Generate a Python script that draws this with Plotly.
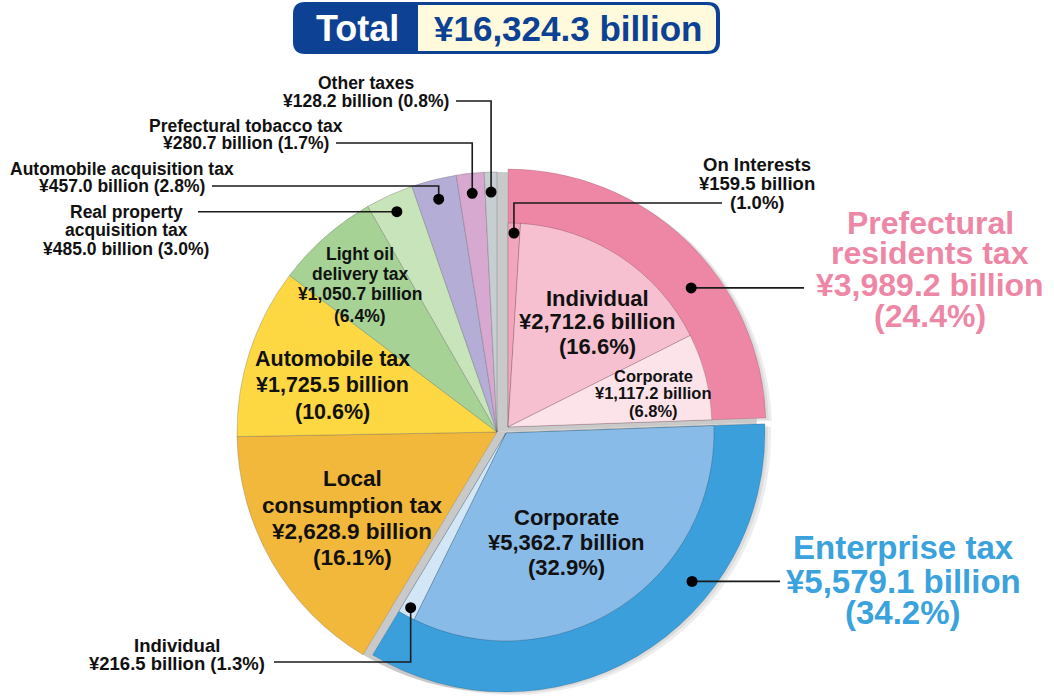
import math
import plotly.graph_objects as go

W, H = 1054, 698

# ---------------- data (¥ billion) ----------------
main_labels = ["Prefectural residents tax", "Enterprise tax", "Local consumption tax",
               "Automobile tax", "Light oil delivery tax", "Real property acquisition tax",
               "Automobile acquisition tax", "Prefectural tobacco tax", "Other taxes"]
main_values = [3989.2, 5579.1, 2628.9, 1725.5, 1050.7, 485.0, 457.0, 280.7, 128.2]
main_shares = [24.4, 34.2, 16.1, 10.6, 6.4, 3.0, 2.8, 1.7, 0.8]

pref_sub_labels = ["On Interests", "Individual", "Corporate"]
pref_sub_values = [159.5, 2712.6, 1117.2]
pref_sub_shares = [1.0, 16.6, 6.8]

ent_sub_labels = ["Corporate", "Individual"]
ent_sub_values = [5362.7, 216.5]
ent_sub_shares = [32.9, 1.3]

total_value = 16324.3

# leaf list (sub-items of the two split taxes + the other main taxes)
leaf_labels = ([f"Prefectural residents tax: {l}" for l in pref_sub_labels]
               + [f"Enterprise tax: {l}" for l in ent_sub_labels] + main_labels[2:])
leaf_values = pref_sub_values + ent_sub_values + main_values[2:]

# ---------------- styling ----------------
FONT = "Liberation Sans, Arial, Helvetica, sans-serif"
T = "rgba(0,0,0,0)"
SHADOW = "#C9C9C9"
SOFT = "rgba(0,0,0,0.07)"
PINK_RING, BLUE_RING = "#EE87A5", "#3A9FDB"
pref_sub_colors = ["#F2A6BC", "#F6C0D0", "#FCE3EA"]
ent_sub_colors = ["#88BBE7", "#D3E6F5"]
other_colors = ["#F2B83B", "#FDD843", "#A6D395", "#C8E4BA", "#B4AED6", "#D8A9D0", "#C6CED2"]

# pie geometry in pixels: (centre x, centre y, radius)
A = (497, 432, 260)       # un-separated slices
B = (508, 427, 258)       # separated prefectural residents tax
C = (506, 433, 259)       # separated enterprise tax
R_IN_B = 204              # radius of inner (breakdown) discs
R_IN_C = 208


def clamp(v):
    return min(1.0, max(0.0, v))


def dom(c, r=None, dx=0, dy=0):
    cx, cy, rr = c
    cx, cy = cx + dx, cy + dy
    if r is not None:
        rr = r
    return dict(x=[clamp((cx - rr) / W), clamp((cx + rr) / W)],
                y=[clamp(1 - (cy + rr) / H), clamp(1 - (cy - rr) / H)])


def pie(labels, values, colors, widths, domain, lcolor="rgba(0,0,0,0.18)", hover=True):
    return go.Pie(labels=labels, values=values, sort=False, direction="clockwise",
                  rotation=0, textinfo="none",
                  hoverinfo="label+value" if hover else "skip", showlegend=False,
                  domain=domain,
                  marker=dict(colors=colors, line=dict(color=lcolor, width=widths)))


n_main = len(main_values)
n_leaf = len(leaf_values)

fig = go.Figure()
# soft drop shadows of the separated rings
for off in (3, 6):
    fig.add_trace(pie(main_labels, main_values, [SOFT] + [T] * (n_main - 1),
                      [0] * n_main, dom(B, None, off, off * 0.5), hover=False))
    fig.add_trace(pie(main_labels, main_values, [T, SOFT] + [T] * (n_main - 2),
                      [0] * n_main, dom(C, None, off, off * 0.5), hover=False))
# base pie (shadow where the separated slices were)
fig.add_trace(pie(main_labels, main_values, [SHADOW, SHADOW] + other_colors,
                  [0, 0] + [1] * 7, dom(A), "rgba(90,90,90,0.30)"))
# separated outer rings
fig.add_trace(pie(main_labels, main_values, [PINK_RING] + [T] * (n_main - 1),
                  [1] + [0] * (n_main - 1), dom(B), "rgba(0,0,0,0.12)"))
fig.add_trace(pie(main_labels, main_values, [T, BLUE_RING] + [T] * (n_main - 2),
                  [0, 1] + [0] * (n_main - 2), dom(C), "rgba(0,0,0,0.12)"))
# inner breakdown discs
fig.add_trace(pie(leaf_labels, leaf_values, pref_sub_colors + [T] * (n_leaf - 3),
                  [1, 1, 1] + [0] * (n_leaf - 3), dom(B, R_IN_B)))
fig.add_trace(pie(leaf_labels, leaf_values, [T] * 3 + ent_sub_colors + [T] * (n_leaf - 5),
                  [0, 0, 0, 1, 1] + [0] * (n_leaf - 5), dom(C, R_IN_C)))


# ---------------- geometry helpers ----------------
def cum_bounds(values):
    s = sum(values)
    out, acc = [], 0.0
    for v in values:
        out.append((acc / s, (acc + v) / s))
        acc += v
    return out


main_b = cum_bounds(main_values)
leaf_b = cum_bounds(leaf_values)


def point(center, bounds, frac, r):
    cx, cy, _ = center
    a = 2 * math.pi * (bounds[0] + frac * (bounds[1] - bounds[0]))
    return cx + r * math.sin(a), cy - r * math.cos(a)


def px(x):
    return x / W


def py(y):
    return 1 - y / H


shapes = []
annotations = []


def dot(p):
    x, y = p
    rr = 5.5
    shapes.append(dict(type="circle", xref="paper", yref="paper",
                       x0=px(x - rr), x1=px(x + rr), y0=py(y + rr), y1=py(y - rr),
                       fillcolor="#000", line=dict(width=0), layer="above"))


def polyline(pts):
    d = "M " + " L ".join(f"{px(x):.5f},{py(y):.5f}" for x, y in pts)
    shapes.append(dict(type="path", xref="paper", yref="paper", path=d,
                       line=dict(color="#1a1a1a", width=1.6), layer="above"))


def label(lines, cx, ys, size, color="#111111"):
    for t, y in zip(lines, ys):
        annotations.append(dict(x=px(cx), y=py(y), xref="paper", yref="paper",
                                text=f"<b>{t}</b>", showarrow=False,
                                xanchor="center", yanchor="middle",
                                font=dict(family=FONT, size=size, color=color)))


def fmt(v):
    return f"¥{v:,.1f} billion"


# ---------------- leader lines + dots ----------------
small = [  # (index in main, label x-centre, label ys, leader y, leader start x)
    (8, 366, [83, 101], 101, 456),
    (7, 246, [126, 143], 143, 336),
    (6, 122, [169, 186], 186, 212),
]
for idx, lx, ys, ly, sx in small:
    p = point(A, main_b[idx], 0.5, 240)
    polyline([(sx, ly), (p[0], ly), p])
    dot(p)
    label([main_labels[idx], f"{fmt(main_values[idx])} ({main_shares[idx]}%)"], lx, ys, 17.5)

p = point(A, main_b[5], 0.5, 242)
polyline([(198, p[1]), p])
dot(p)
label(["Real property", "acquisition tax", f"{fmt(main_values[5])} ({main_shares[5]}%)"],
      126, [212, 230, 249], 17.5)

# On Interests
p = point(B, leaf_b[0], 0.5, 194)
polyline([(722, 203), (p[0], 203), p])
dot(p)
label([pref_sub_labels[0], fmt(pref_sub_values[0]), f"({pref_sub_shares[0]}%)"],
      757, [165, 184, 203], 18.5)

# Prefectural residents tax (ring)
p = point(B, main_b[0], 0.6, 230)
polyline([p, (804, p[1])])
dot(p)
label(["Prefectural", "residents tax", fmt(main_values[0]), f"({main_shares[0]}%)"],
      930, [223, 253, 285, 316], 32, PINK_RING)

# Enterprise tax (ring)
p = point(C, main_b[1], 0.33, 238)
polyline([p, (780, p[1])])
dot(p)
label(["Enterprise tax", fmt(main_values[1]), f"({main_shares[1]}%)"],
      903, [547, 581, 612], 33, "#3AA2DC")

# Enterprise tax: Individual
p = point(C, leaf_b[4], 0.5, 199)
polyline([(274, 662), (p[0], 662), p])
dot(p)
label([ent_sub_labels[1], f"{fmt(ent_sub_values[1])} ({ent_sub_shares[1]}%)"],
      177, [645, 663], 18.5)

# ---------------- labels inside slices ----------------
label([pref_sub_labels[1], fmt(pref_sub_values[1]), f"({pref_sub_shares[1]}%)"],
      597, [298, 321, 346], 22)
label([pref_sub_labels[2], fmt(pref_sub_values[2]), f"({pref_sub_shares[2]}%)"],
      653, [376, 393, 411], 16.5)
label(["Light oil", "delivery tax", fmt(main_values[4]), f"({main_shares[4]}%)"],
      360, [254, 274, 294, 316], 17.5)
label([main_labels[3], fmt(main_values[3]), f"({main_shares[3]}%)"],
      332, [359, 385, 412], 21.5)
label(["Local", "consumption tax", fmt(main_values[2]), f"({main_shares[2]}%)"],
      352, [478, 505, 531, 557], 22.5)
label([ent_sub_labels[0], fmt(ent_sub_values[0]), f"({ent_sub_shares[0]}%)"],
      566, [517, 542, 567], 22)


# ---------------- title box ----------------
def rrect_path(x0, y0, x1, y1, r, left_round=True):
    pts = []
    if left_round:
        pts.append(f"M {px(x0 + r)},{py(y0)}")
    else:
        pts.append(f"M {px(x0)},{py(y0)}")
    pts.append(f"L {px(x1 - r)},{py(y0)}")
    pts.append(f"Q {px(x1)},{py(y0)} {px(x1)},{py(y0 + r)}")
    pts.append(f"L {px(x1)},{py(y1 - r)}")
    pts.append(f"Q {px(x1)},{py(y1)} {px(x1 - r)},{py(y1)}")
    if left_round:
        pts.append(f"L {px(x0 + r)},{py(y1)}")
        pts.append(f"Q {px(x0)},{py(y1)} {px(x0)},{py(y1 - r)}")
        pts.append(f"L {px(x0)},{py(y0 + r)}")
        pts.append(f"Q {px(x0)},{py(y0)} {px(x0 + r)},{py(y0)}")
    else:
        pts.append(f"L {px(x0)},{py(y1)}")
    pts.append("Z")
    return " ".join(pts)


shapes.insert(0, dict(type="path", xref="paper", yref="paper",
                      path=rrect_path(293, 2, 720, 54, 12), fillcolor="#0C4193",
                      line=dict(width=0), layer="above"))
shapes.insert(1, dict(type="path", xref="paper", yref="paper",
                      path=rrect_path(418, 5, 716, 51, 9, left_round=False),
                      fillcolor="#FEFADB", line=dict(width=0), layer="above"))
annotations.append(dict(x=px(357), y=py(28), xref="paper", yref="paper", text="<b>Total</b>",
                        showarrow=False, xanchor="center", yanchor="middle",
                        font=dict(family=FONT, size=36, color="#FFFFFF")))
annotations.append(dict(x=px(568), y=py(28), xref="paper", yref="paper",
                        text=f"<b>¥{total_value:,.1f} billion</b>",
                        showarrow=False, xanchor="center", yanchor="middle",
                        font=dict(family=FONT, size=35, color="#0C4193")))

fig.update_layout(width=W, height=H, autosize=False,
                  margin=dict(l=0, r=0, t=0, b=0),
                  paper_bgcolor="#FFFFFF", plot_bgcolor="#FFFFFF",
                  shapes=shapes, annotations=annotations, showlegend=False)

fig.write_html("out.html", config={"displayModeBar": False},
               post_script="document.body.style.margin='0';document.body.style.overflow='hidden';")
